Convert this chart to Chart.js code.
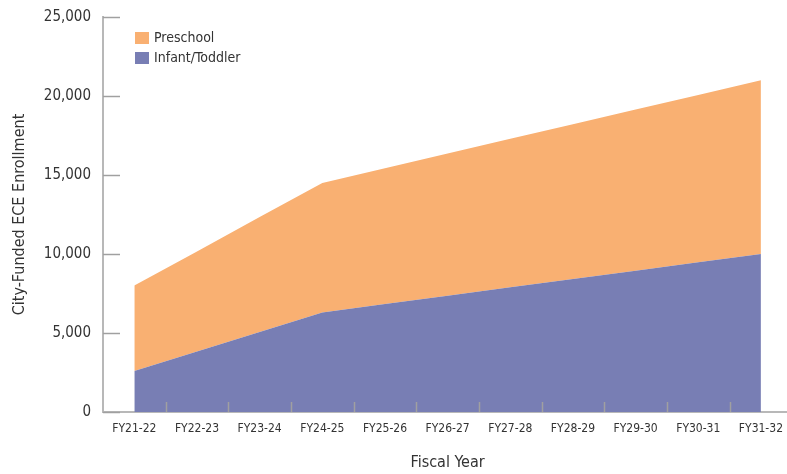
<!DOCTYPE html>
<html>
<head>
<meta charset="utf-8">
<script src="https://cdn.jsdelivr.net/npm/chart.js@4.4.1/dist/chart.umd.min.js"></script>
<style>
  html, body { margin: 0; padding: 0; background: #fff; overflow: hidden; }
  #wrap { width: 793px; height: 474px; }
</style>
</head>
<body>
<div id="wrap"><canvas id="chart"></canvas></div>
<script>
const years = ['FY21-22', 'FY22-23', 'FY23-24', 'FY24-25', 'FY25-26', 'FY26-27', 'FY27-28', 'FY28-29', 'FY29-30', 'FY30-31', 'FY31-32'];
const infantToddler = [2600, 3830, 5070, 6300, 6830, 7360, 7890, 8410, 8940, 9470, 10000];
const preschool = [5400, 6330, 7270, 8200, 8600, 9000, 9400, 9800, 10200, 10600, 11000];
const yTicks = [0, 5000, 10000, 15000, 20000, 25000];

const FONT = "'DejaVu Sans Condensed', 'Roboto', sans-serif";
const ORANGE = '#f9b072';
const PURPLE = '#787eb4';
const AXIS = '#b8b8b8';

// small tick marks drawn inward, plus the legend box in the top-left
const innerTicks = {
    id: 'innerTicks',
    afterDraw(chart) {
        const ctx = chart.ctx;
        const x = chart.scales.x, y = chart.scales.y;
        ctx.save();
        ctx.strokeStyle = '#a0a0a0';
        ctx.lineWidth = 1.5;
        yTicks.forEach(v => {
            const py = Math.round(y.getPixelForValue(v)) + 0.5;
            ctx.beginPath();
            ctx.moveTo(x.left, py);
            ctx.lineTo(x.left + 17, py);
            ctx.stroke();
        });
        for (let i = 1; i < years.length; i++) {
            const px = Math.round((x.getPixelForValue(i - 1) + x.getPixelForValue(i)) / 2) + 0.5;
            ctx.beginPath();
            ctx.moveTo(px, y.bottom);
            ctx.lineTo(px, y.bottom - 10);
            ctx.stroke();
        }

        // legend
        const items = [['Preschool', ORANGE], ['Infant/Toddler', PURPLE]];
        ctx.font = '14px ' + FONT;
        ctx.textBaseline = 'middle';
        items.forEach((it, k) => {
            const ly = 38 + k * 20;
            ctx.fillStyle = it[1];
            ctx.fillRect(135, ly - 6, 14, 12);
            ctx.fillStyle = '#333';
            ctx.fillText(it[0], 154, ly);
        });
        ctx.restore();
    }
};

new Chart(document.getElementById('chart'), {
    type: 'line',
    data: {
        labels: years,
        datasets: [
            {
                label: 'Infant/Toddler',
                data: infantToddler,
                backgroundColor: PURPLE,
                borderWidth: 0,
                pointRadius: 0,
                fill: 'origin',
                tension: 0
            },
            {
                label: 'Preschool',
                data: preschool,
                backgroundColor: ORANGE,
                borderWidth: 0,
                pointRadius: 0,
                fill: '-1',
                tension: 0
            }
        ]
    },
    options: {
        responsive: true,
        maintainAspectRatio: false,
        animation: false,
        layout: { padding: { top: 17, right: 0, left: 0, bottom: 0 } },
        plugins: {
            legend: { display: false },
            tooltip: { enabled: false }
        },
        scales: {
            x: {
                offset: true,
                grid: { display: false, drawTicks: false },
                border: { color: AXIS, width: 2 },
                ticks: {
                    color: '#333',
                    font: { family: FONT, size: 12 },
                    padding: 10,
                    maxRotation: 0,
                    autoSkip: false
                },
                title: {
                    display: true,
                    text: 'Fiscal Year',
                    color: '#333',
                    font: { family: FONT, size: 16 },
                    padding: { top: 13, bottom: 2 }
                },
                afterFit(scale) { scale.height = 62; }
            },
            y: {
                stacked: true,
                min: 0,
                max: 25000,
                grid: { display: false, drawTicks: false },
                border: { color: AXIS, width: 2 },
                ticks: {
                    stepSize: 5000,
                    color: '#333',
                    font: { family: FONT, size: 15 },
                    padding: 12,
                    callback: v => v.toLocaleString('en-US')
                },
                title: {
                    display: true,
                    text: 'City-Funded ECE Enrollment',
                    color: '#333',
                    font: { family: FONT, size: 16 },
                    padding: { top: 10, bottom: 8 }
                },
                afterFit(scale) {
                    scale.width = 103;
                    scale.paddingTop = 0;
                    scale.paddingBottom = 0;
                }
            }
        }
    },
    plugins: [innerTicks]
});
</script>
</body>
</html>
